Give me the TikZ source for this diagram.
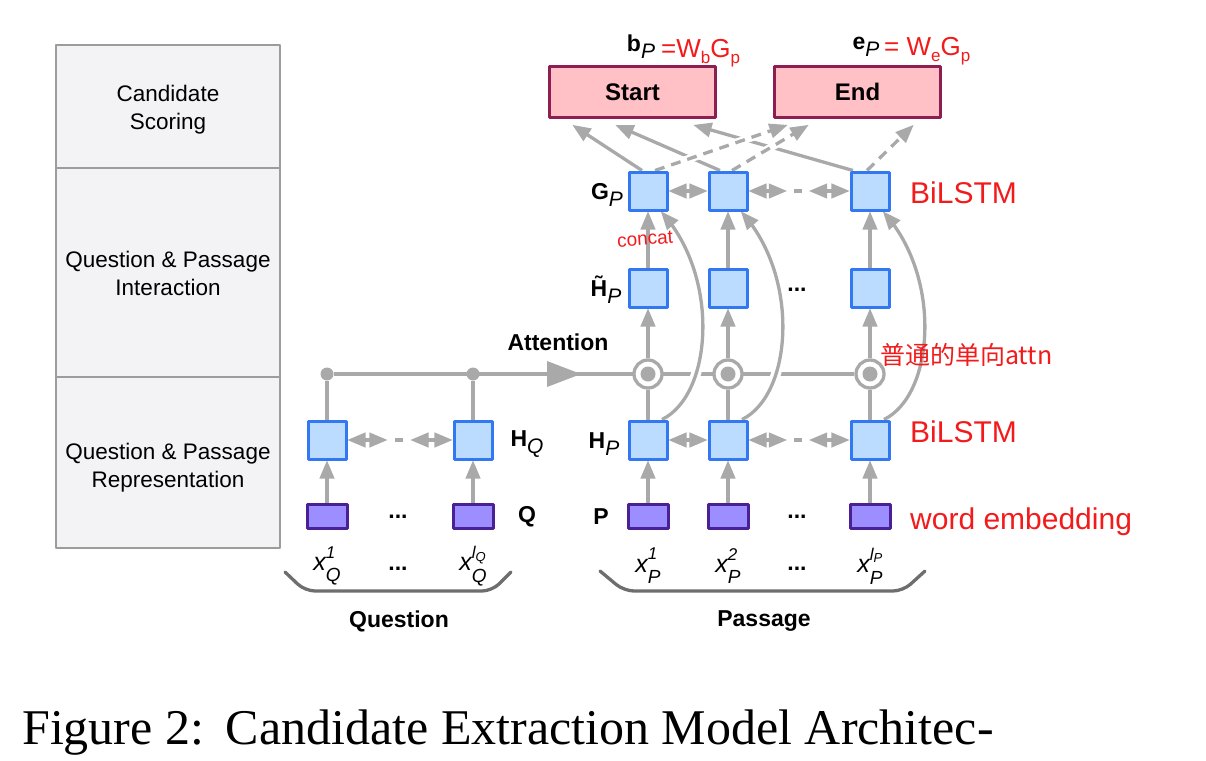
\documentclass[tikz,border=0pt]{standalone}
\usepackage{fontspec}
\setmainfont{Liberation Serif}
\newfontfamily\sansf{Liberation Sans}
\newfontfamily\cjkf{Noto Sans CJK SC}
\usetikzlibrary{arrows,calc,backgrounds}

\definecolor{linegray}{HTML}{A9A9A9}
\definecolor{bracegray}{HTML}{6E6E6E}
\definecolor{panelfill}{HTML}{F3F3F5}
\definecolor{panelline}{HTML}{9C9C9C}
\definecolor{hidfill}{HTML}{BBDCFF}
\definecolor{hidline}{HTML}{3178F2}
\definecolor{embfill}{HTML}{9D8EFF}
\definecolor{embline}{HTML}{4A2096}
\definecolor{outfill}{HTML}{FFC1C5}
\definecolor{outborder}{HTML}{8E1E52}
\definecolor{notered}{HTML}{F21A1A}

\newcommand{\lowsub}[1]{\raisebox{-0.3em}{\fontsize{21}{21}\selectfont\mdseries\itshape #1}}
\newcommand{\redsub}[1]{\raisebox{-0.25em}{\fontsize{17}{17}\selectfont #1}}
\newcommand{\xlab}[2]{\itshape x\rlap{\raisebox{0.5em}{\fontsize{17}{17}\selectfont #1}}\raisebox{-0.45em}{\fontsize{19}{19}\selectfont #2}}

\begin{document}
\begin{tikzpicture}[line cap=round,line join=round,>=triangle 45,x=1pt,y=-1pt,
	panel/.style={draw=panelline,fill=panelfill,line width=1.5pt,inner sep=0pt},
	paneltext/.style={inner sep=0pt,align=center,font=\sansf\fontsize{22.5}{28}\selectfont},
	hid/.style={draw=hidline,fill=hidfill,line width=3pt,minimum size=38pt,inner sep=0pt},
	emb/.style={draw=embline,fill=embfill,line width=3pt,minimum width=40pt,minimum height=24pt,inner sep=0pt},
	outbox/.style={draw=outborder,fill=outfill,line width=3pt,minimum width=166pt,minimum height=51pt,inner sep=0pt,font=\sansf\bfseries\fontsize{24}{28}\selectfont},
	attn/.style={circle,draw=linegray,fill=white,line width=3.3pt,minimum size=28pt,inner sep=0pt,path picture={\fill[linegray] (path picture bounding box.center) circle (7.5pt);}},
	joint/.style={circle,fill=linegray,minimum size=13pt,inner sep=0pt},
	flow/.style={draw=linegray,line width=3.3pt},
	score/.style={flow,dash pattern=on 10pt off 7pt,preaction={-,draw=white,line width=8pt,solid}},
	skip/.style={flow,preaction={-,draw=white,line width=10pt}},
	lab/.style={inner sep=0pt,font=\sansf\bfseries\fontsize{23}{28}\selectfont},
	xtext/.style={inner sep=0pt,font=\sansf\fontsize{25}{30}\selectfont},
	note/.style={inner sep=0pt,anchor=west,text=notered,font=\sansf\fontsize{30}{34}\selectfont}]
	\useasboundingbox (0,0) rectangle (1206,760);
	% layer panels
	\node[panel,minimum width=224pt,minimum height=123pt] (scorebox) at (168,106.5) {};
	\node[panel,minimum width=224pt,minimum height=209pt] (interbox) at (168,272.5) {};
	\node[panel,minimum width=224pt,minimum height=171pt] (reprbox) at (168,462.5) {};
	\node[paneltext] (scoretext) at (168,110) {Candidate\\Scoring};
	\node[paneltext] (intertext) at (168,273) {Question \& Passage\\Interaction};
	\node[paneltext] (reprtext) at (168,468) {Question \& Passage\\Representation};
	% scoring
	\node[outbox] (startbox) at (632.5,92) {Start};
	\node[outbox] (endbox) at (857.5,92) {End};
	% passage columns
	\node[hid] (g1) at (648,191) {};
	\node[hid] (g2) at (728,191) {};
	\node[hid] (g3) at (870,191) {};
	\node[hid] (t1) at (648,288) {};
	\node[hid] (t2) at (728,288) {};
	\node[hid] (t3) at (870,288) {};
	\node[attn] (a1) at (648,374) {};
	\node[attn] (a2) at (728,374) {};
	\node[attn] (a3) at (870,374) {};
	\node[hid] (h1) at (648,440) {};
	\node[hid] (h2) at (728,440) {};
	\node[hid] (h3) at (870,440) {};
	\node[emb] (ep1) at (648,516.5) {};
	\node[emb] (ep2) at (728,516.5) {};
	\node[emb] (ep3) at (870,516.5) {};
	% question columns
	\node[joint] (qa1) at (327,374) {};
	\node[joint] (qa2) at (473,374) {};
	\node[hid] (hq1) at (327,440) {};
	\node[hid] (hq2) at (473,440) {};
	\node[emb] (eq1) at (327,516.5) {};
	\node[emb] (eq2) at (473,516.5) {};
	% labels
	\node[lab] (bplab) at (641,47) {b\lowsub{P}};
	\node[lab] (eplab) at (866,47) {e\lowsub{P}};
	\node[lab] (gplab) at (607,195) {G\lowsub{P}};
	\node[lab] (tplab) at (606,290) {\~{H}\lowsub{P}};
	\node[lab] (attlab) at (558,342) {Attention};
	\node[lab] (hqlab) at (527,444) {H\lowsub{Q}};
	\node[lab] (hplab) at (604,444) {H\lowsub{P}};
	\node[lab] (qlab) at (527,517) {Q};
	\node[lab] (plab) at (601,517) {P};
	\node[lab] (tdots) at (797,290) {...};
	\node[lab] (eqdots) at (398,517) {...};
	\node[lab] (epdots) at (797,517) {...};
	\node[lab] (xqdots) at (398,569) {...};
	\node[lab] (xpdots) at (797,569) {...};
	\node[xtext] (xq1) at (327,566) {\xlab{1}{Q}};
	\node[xtext] (xq2) at (473,566) {\xlab{l\raisebox{-0.15em}{\fontsize{13}{13}\selectfont Q}}{Q}};
	\node[xtext] (xp1) at (648,566) {\xlab{1}{P}};
	\node[xtext] (xp2) at (728,566) {\xlab{2}{P}};
	\node[xtext] (xp3) at (870,566) {\xlab{l\raisebox{-0.15em}{\fontsize{13}{13}\selectfont P}}{P}};
	\node[lab] (qulab) at (399,621) {Question};
	\node[lab] (palab) at (764,621) {Passage};
	% handwritten notes
	\node[note,font=\sansf\fontsize{26}{30}\selectfont] (bnote) at (661,53) {=W\redsub{b}G\redsub{p}};
	\node[note,font=\sansf\fontsize{26}{30}\selectfont] (enote) at (884,51) {= W\redsub{e}G\redsub{p}};
	\node[note] (gnote) at (910,193) {BiLSTM};
	\node[note,font=\sansf\fontsize{19}{22}\selectfont,rotate=4] (cnote) at (617,241) {concat};
	\node[note,font=\cjkf\fontsize{25}{28}\selectfont] (anote) at (880,355) {普通的单向attn};
	\node[note] (hnote) at (910,432) {BiLSTM};
	\node[note] (wnote) at (910,522) {word embedding};
	% braces
	\draw[draw=bracegray,line width=3.3pt,rounded corners=10pt] (285,572) -- (305,591) -- (492,591) -- (511,572);
	\draw[draw=bracegray,line width=3.3pt,rounded corners=10pt] (600,571) -- (624,591) -- (903,591) -- (925,571);
	% caption
	\node[anchor=base west,inner sep=0pt,font=\fontsize{50}{56}\selectfont] (caption) at (22,744) {Figure 2:\hspace{0.1em} Candidate Extraction Model Architec-};
	\begin{pgfonlayer}{background}
		\draw[flow] (qa1) -- (a3);
		\fill[linegray] (547,361) -- (581,374) -- (547,387) -- cycle;
		\draw[flow] (hq1) -- (qa1);
		\draw[flow] (hq2) -- (qa2);
		\draw[flow,->] (eq1) -- (hq1);
		\draw[flow,->] (eq2) -- (hq2);
		\draw[flow,<->] (hq1) -- ($(hq1.east)!.38!(hq2.west)$);
		\draw[flow] ($(hq1.east)!.45!(hq2.west)$) -- ($(hq1.east)!.53!(hq2.west)$);
		\draw[flow,<->] ($(hq1.east)!.6!(hq2.west)$) -- (hq2);
		\draw[flow,->] (ep1) -- (h1);
		\draw[flow,->] (ep2) -- (h2);
		\draw[flow,->] (ep3) -- (h3);
		\draw[flow] (h1) -- (a1);
		\draw[flow] (h2) -- (a2);
		\draw[flow] (h3) -- (a3);
		\draw[flow,->] (a1) -- (t1);
		\draw[flow,->] (a2) -- (t2);
		\draw[flow,->] (a3) -- (t3);
		\draw[flow,->] (t1) -- (g1);
		\draw[flow,->] (t2) -- (g2);
		\draw[flow,->] (t3) -- (g3);
		\draw[flow,<->] (h1) -- (h2);
		\draw[flow,<->] (h2) -- ($(h2.east)!.38!(h3.west)$);
		\draw[flow] ($(h2.east)!.45!(h3.west)$) -- ($(h2.east)!.53!(h3.west)$);
		\draw[flow,<->] ($(h2.east)!.6!(h3.west)$) -- (h3);
		\draw[flow,<->] (g1) -- (g2);
		\draw[flow,<->] (g2) -- ($(g2.east)!.38!(g3.west)$);
		\draw[flow] ($(g2.east)!.45!(g3.west)$) -- ($(g2.east)!.53!(g3.west)$);
		\draw[flow,<->] ($(g2.east)!.6!(g3.west)$) -- (g3);
		\draw[skip,->] ([xshift=14pt]h1.north) .. controls (712,395) and (720,280) .. ([xshift=13pt]g1.south);
		\draw[skip,->] ([xshift=14pt]h2.north) .. controls (792,395) and (800,280) .. ([xshift=13pt]g2.south);
		\draw[skip,->] ([xshift=14pt]h3.north) .. controls (934,395) and (942,280) .. ([xshift=13pt]g3.south);
		\draw[flow,->] ([xshift=-6pt]g1.north) -- ([xshift=-60pt,yshift=-6pt]startbox.south);
		\draw[flow,->] ([xshift=-8pt]g2.north) -- ([xshift=-17pt,yshift=-6pt]startbox.south);
		\draw[flow,->] ([xshift=-17pt]g3.north) -- ([xshift=61pt,yshift=-6pt]startbox.south);
		\draw[score,->] ([xshift=7pt]g1.north) -- ([xshift=-70pt,yshift=-6pt]endbox.south);
		\draw[score,->] ([xshift=4pt]g2.north) -- ([xshift=-49pt,yshift=-6pt]endbox.south);
		\draw[score,->] ([xshift=-3pt]g3.north) -- ([xshift=56pt,yshift=-6pt]endbox.south);
	\end{pgfonlayer}
\end{tikzpicture}
\end{document}
